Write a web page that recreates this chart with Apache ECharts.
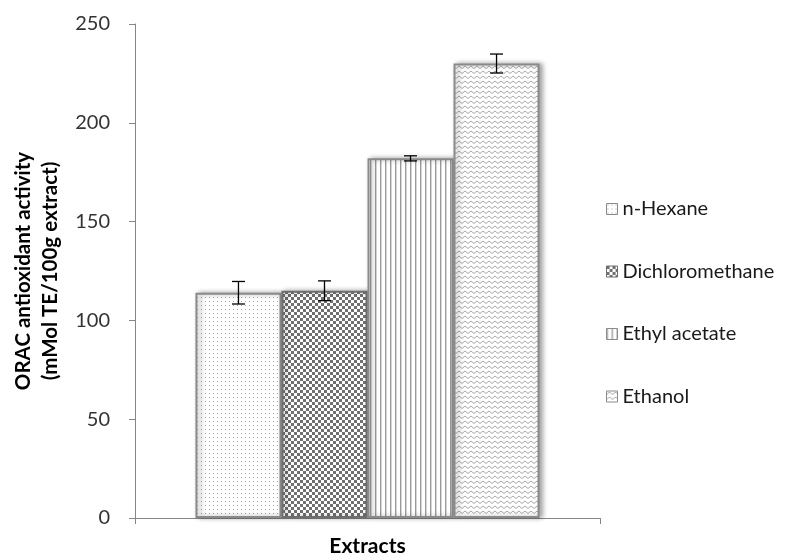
<!DOCTYPE html>
<html>
<head>
<meta charset="utf-8">
<script src="https://cdn.jsdelivr.net/npm/echarts@6/dist/echarts.min.js"></script>
<style>
html,body{margin:0;padding:0;background:#fff;}
#chart{width:798px;height:554px;}
</style>
</head>
<body>
<div id="chart"></div>
<script>
// ---- data ----
var categories = ['Extracts'];
var seriesNames = ['n-Hexane', 'Dichloromethane', 'Ethyl acetate', 'Ethanol'];
var values = [114, 115, 182, 230];
var errors = [5.7, 5, 1.3, 4.8];
var yTicks = [0, 50, 100, 150, 200, 250];

// ---- pattern helpers (style only) ----
function mk(w, h, draw) {
  var c = document.createElement('canvas');
  c.width = w; c.height = h;
  var g = c.getContext('2d');
  g.fillStyle = '#fff'; g.fillRect(0, 0, w, h);
  draw(g);
  return { image: c, repeat: 'repeat' };
}
var patDots = mk(4, 4, function (g) { g.fillStyle = '#a6a6a6'; g.fillRect(1, 1, 1, 1); });
var patChecker = mk(6, 6, function (g) { g.fillStyle = '#707070'; g.fillRect(0, 0, 3, 3); g.fillRect(3, 3, 3, 3); });
var patVert = mk(5, 4, function (g) { g.fillStyle = '#9a9a9a'; g.fillRect(0, 0, 1.4, 4); });
var patZig = mk(6, 5, function (g) {
  g.strokeStyle = '#a8a8a8'; g.lineWidth = 1;
  g.beginPath(); g.moveTo(0, 3.5); g.lineTo(3, 1); g.lineTo(6, 3.5); g.stroke();
});
var patterns = [patDots, patChecker, patVert, patZig];
var borders = ['#8a8a8a', '#6e6e6e', '#8a8a8a', '#8a8a8a'];

var GAP = 0.26; // barCategoryGap fraction
var font = 'Lato, "Open Sans", sans-serif';

var series = seriesNames.map(function (name, i) {
  return {
    name: name,
    type: 'bar',
    barGap: '0%',
    barCategoryGap: (GAP * 100) + '%',
    data: [values[i]],
    itemStyle: {
      color: patterns[i],
      borderColor: borders[i],
      borderWidth: 2,
      shadowColor: 'rgba(0,0,0,0.35)',
      shadowBlur: 5,
      shadowOffsetX: 3
    },
    emphasis: { disabled: true }
  };
});

var errData = values.map(function (v, i) { return [i, v, errors[i]]; });
series.push({
  type: 'custom',
  name: 'err',
  z: 10,
  silent: true,
  data: errData,
  encode: { y: 1 },
  renderItem: function (params, api) {
    var idx = api.value(0), v = api.value(1), e = api.value(2);
    var band = api.size([1, 0])[0];
    var total = band * (1 - GAP);
    var bw = total / seriesNames.length;
    var cx = api.coord([0, 0])[0] - total / 2 + bw * (idx + 0.5);
    var yTop = api.coord([0, v + e])[1];
    var yBot = api.coord([0, v - e])[1];
    var cap = 6.5;
    var st = { stroke: '#000', lineWidth: 1.3 };
    return {
      type: 'group',
      children: [
        { type: 'line', shape: { x1: cx, y1: yTop, x2: cx, y2: yBot }, style: st },
        { type: 'line', shape: { x1: cx - cap, y1: yTop, x2: cx + cap, y2: yTop }, style: st },
        { type: 'line', shape: { x1: cx - cap, y1: yBot, x2: cx + cap, y2: yBot }, style: st }
      ]
    };
  }
});

var chart = echarts.init(document.getElementById('chart'), null, { renderer: 'canvas' });
chart.setOption({
  animation: false,
  backgroundColor: '#fff',
  textStyle: { fontFamily: font },
  grid: { left: 135, right: 198, top: 24, bottom: 36, containLabel: false, outerBoundsMode: 'none' },
  legend: {
    data: seriesNames,
    orient: 'vertical',
    left: 601,
    top: 194,
    itemWidth: 11,
    itemHeight: 11,
    itemGap: 42.5,
    icon: 'rect',
    textStyle: { fontSize: 20, color: '#1a1a1a', fontFamily: font },
    itemStyle: { borderWidth: 1 }
  },
  xAxis: {
    type: 'category',
    data: categories,
    name: 'Extracts',
    nameLocation: 'middle',
    nameGap: 16,
    nameTextStyle: { fontSize: 21, fontWeight: 'bold', color: '#000', fontFamily: font, lineHeight: 24 },
    axisLine: { lineStyle: { color: '#868686', width: 1 } },
    axisTick: { show: true, length: 6, lineStyle: { color: '#868686' } },
    axisLabel: { show: false },
    splitLine: { show: false }
  },
  yAxis: {
    type: 'value',
    min: yTicks[0],
    max: yTicks[yTicks.length - 1],
    interval: 50,
    name: 'ORAC antioxidant activity\n(mMol TE/100g extract)',
    nameLocation: 'middle',
    nameRotate: 90,
    nameGap: 71,
    nameTextStyle: { fontSize: 20.5, fontWeight: 'bold', color: '#000', fontFamily: font, lineHeight: 27 },
    axisLine: { show: true, lineStyle: { color: '#868686', width: 1 } },
    axisTick: { show: true, length: 6, lineStyle: { color: '#868686' } },
    axisLabel: { fontSize: 20, color: '#333', margin: 25, fontFamily: font },
    splitLine: { show: false }
  },
  series: series
});
</script>
</body>
</html>
